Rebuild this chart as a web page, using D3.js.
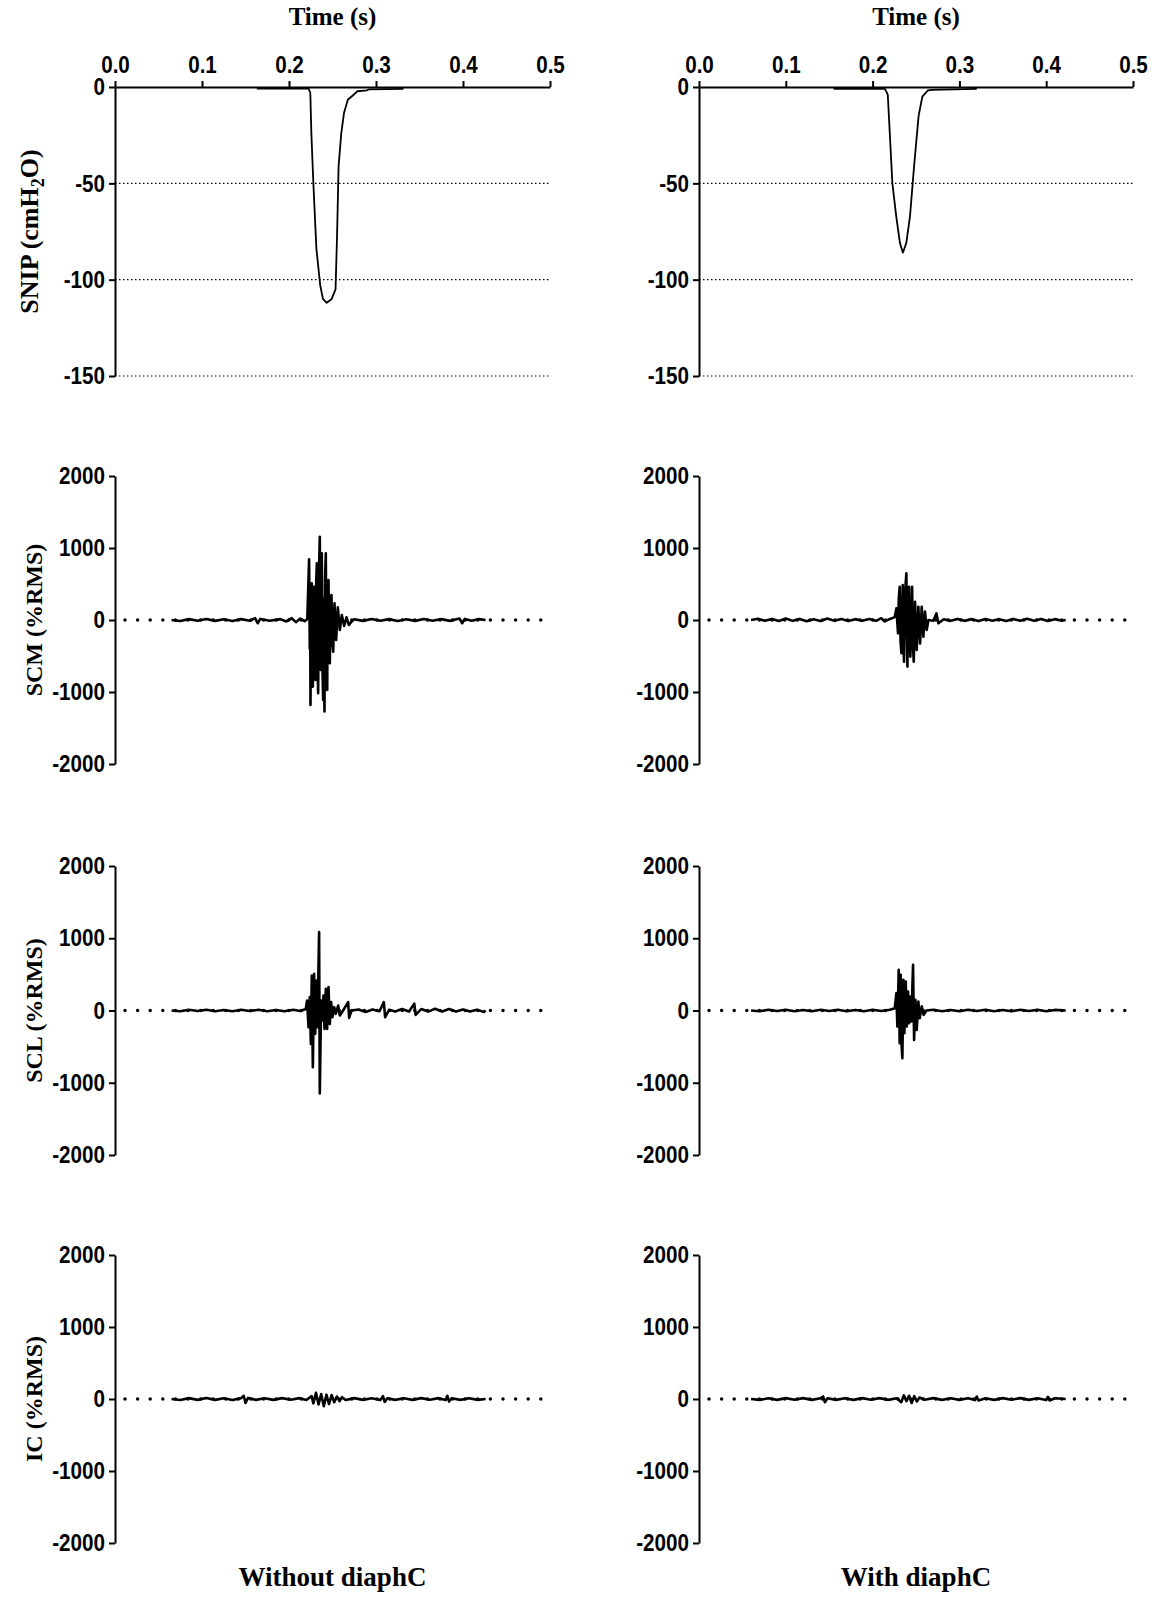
<!DOCTYPE html>
<html lang="en">
<head>
    <meta charset="UTF-8">
    <title>SNIP and EMG traces</title>
    <script src="https://cdn.jsdelivr.net/npm/d3@7"></script>
    <style>
        body { margin: 0; background: #fff; }
        .tick text { font-family: "Liberation Sans", Arial, sans-serif; font-weight: bold; font-size: 24px; fill: #000; }
        .title { font-family: "Liberation Serif", "Times New Roman", serif; font-weight: bold; fill: #000; }
    </style>
</head>
<body>
    <script>
        // x ticks (time, s)
        var timeTicks = [0, 0.1, 0.2, 0.3, 0.4, 0.5];
        var snipTicks = [0, -50, -100, -150];
        var snipGrid = [-50, -100, -150];
        var emgTicks = [2000, 1000, 0, -1000, -2000];

        var colTitles = ['Without diaphC', 'With diaphC'];

        // SNIP (cmH2O) traces : [time, value]
        var snipWithout = [
            [0.163, -0.8], [0.2225, -0.8], [0.2245, -3], [0.2257, -24], [0.228, -50], [0.2315, -84],
            [0.2359, -103], [0.239, -110], [0.2434, -112], [0.2491, -110], [0.2535, -105], [0.2553, -76],
            [0.257, -41], [0.2601, -24], [0.2632, -13.5], [0.2676, -6.6], [0.2743, -4], [0.2787, -2.2],
            [0.2897, -1.7], [0.292, -1.2], [0.3316, -1]
        ];
        var snipWith = [
            [0.155, -1], [0.2142, -1], [0.2175, -4], [0.2198, -24], [0.2228, -50], [0.2272, -67],
            [0.2315, -81], [0.2349, -86], [0.2388, -81], [0.2431, -67], [0.2478, -41], [0.253, -15],
            [0.2573, -5], [0.2638, -1.7], [0.268, -1.5], [0.32, -1]
        ];

        // EMG (%RMS) traces : [time, value]
        var scmWithout = [
            [0.065, 0], [0.075, -15], [0.085, 12], [0.095, -10], [0.105, 15], [0.115, -12], [0.125, 10],
            [0.135, -15], [0.145, 12], [0.155, -10], [0.161, 25], [0.164, -45], [0.167, 15], [0.178, -10],
            [0.19, 12], [0.197, -20], [0.203, 25], [0.208, -30], [0.213, 20], [0.218, -15], [0.221, 10],
            [0.2231, 842], [0.2239, -400], [0.2243, 350], [0.2247, -1179], [0.2255, 420], [0.2262, 509],
            [0.2268, -500], [0.2274, -925], [0.2281, 380], [0.2289, 462], [0.2297, -450], [0.2305, -832],
            [0.2312, 500], [0.232, 786], [0.2328, -600], [0.2335, -1017], [0.2345, 700], [0.2354, 1155],
            [0.236, -450], [0.2366, -693], [0.2371, 600], [0.2377, 925], [0.2385, -700], [0.2393, -1110],
            [0.24, 300], [0.2408, -1271], [0.2415, 600], [0.2423, 925], [0.2431, -600], [0.2439, -971],
            [0.2446, 400], [0.2454, 555], [0.2462, -350], [0.2469, -601], [0.2478, 250], [0.2488, 347],
            [0.2498, -300], [0.2508, -439], [0.2523, 231], [0.2542, -277], [0.2561, 176], [0.2584, -139],
            [0.2607, 69], [0.2634, -83], [0.2661, 37], [0.2688, -69], [0.2718, -23], [0.275, 10],
            [0.285, -12], [0.295, 15], [0.305, -10], [0.315, 12], [0.325, -15], [0.335, 10], [0.345, -12],
            [0.355, 14], [0.365, -10], [0.375, 12], [0.385, -12], [0.396, 20], [0.399, -45], [0.402, 15],
            [0.41, -10], [0.418, 12], [0.426, 0]
        ];
        var scmWith = [
            [0.06, 0], [0.068, 18], [0.076, -12], [0.084, 15], [0.092, -15], [0.1, 20], [0.108, -12],
            [0.116, 15], [0.124, -18], [0.132, 12], [0.14, -15], [0.148, 20], [0.156, -12], [0.164, 15],
            [0.172, -15], [0.18, 12], [0.188, -10], [0.196, 15], [0.204, -12], [0.21, 25], [0.214, -20],
            [0.22, 15], [0.2255, 40], [0.2274, 162], [0.2293, -185], [0.2302, 300], [0.2312, 462],
            [0.2322, -300], [0.2332, -462], [0.2347, 485], [0.2355, -350], [0.2362, -578], [0.2375, 400],
            [0.2389, 647], [0.2401, -647], [0.241, 300], [0.242, 462], [0.2428, -300], [0.2435, -508],
            [0.2455, 462], [0.2465, -350], [0.2474, -578], [0.2489, 254], [0.2508, -416], [0.2527, 185],
            [0.2547, -324], [0.2566, 185], [0.2585, -231], [0.2604, 116], [0.2623, -139], [0.2643, 0],
            [0.27, -10], [0.2735, 92], [0.2758, -46], [0.282, 10], [0.29, -12], [0.298, 15], [0.306, -12],
            [0.314, 12], [0.322, -15], [0.33, 15], [0.338, -10], [0.346, 12], [0.354, -15], [0.362, 15],
            [0.37, -12], [0.378, 18], [0.386, -12], [0.394, 15], [0.402, -15], [0.41, 12], [0.418, -10],
            [0.4225, 0]
        ];
        var sclWithout = [
            [0.065, 0], [0.075, -10], [0.085, 10], [0.095, -8], [0.105, 10], [0.115, -10], [0.125, 8],
            [0.135, -10], [0.145, 10], [0.155, -8], [0.165, 10], [0.175, -10], [0.185, 8], [0.195, -10],
            [0.205, 10], [0.213, -8], [0.2193, 20], [0.2208, 139], [0.2224, -231], [0.2239, 185],
            [0.2251, -462], [0.2262, 485], [0.2274, -786], [0.2289, 508], [0.2301, -323], [0.2316, 416],
            [0.2327, -231], [0.2346, 1086], [0.2354, -1147], [0.2369, 139], [0.2385, -139], [0.2396, 208],
            [0.2408, -254], [0.2423, 300], [0.2438, -254], [0.2454, 323], [0.2469, -185], [0.2484, 116],
            [0.25, -92], [0.2519, 46], [0.2538, -46], [0.2565, 69], [0.2584, -69], [0.2622, 0],
            [0.268, 116], [0.2691, -102], [0.2718, 0], [0.28, 15], [0.288, -20], [0.296, 15], [0.304, -10],
            [0.309, 116], [0.3105, -92], [0.315, 10], [0.322, -15], [0.33, 20], [0.338, -15],
            [0.344, 95], [0.3455, -60], [0.352, 20], [0.36, -15], [0.368, 25], [0.376, -15], [0.384, 20],
            [0.392, -15], [0.4, 15], [0.408, -15], [0.416, 12], [0.424, -20], [0.426, 0]
        ];
        var sclWith = [
            [0.06, 0], [0.07, -10], [0.08, 10], [0.09, -8], [0.1, 10], [0.11, -10], [0.12, 8], [0.13, -10],
            [0.14, 10], [0.15, -8], [0.16, 10], [0.17, -10], [0.18, 8], [0.19, -10], [0.2, 10], [0.21, -8],
            [0.22, 10], [0.2255, 30], [0.2274, 241], [0.2285, -222], [0.2301, 565], [0.2312, -453],
            [0.2324, 495], [0.2335, -500], [0.2343, -661], [0.2355, 425], [0.2366, -314], [0.2382, 402],
            [0.2393, -222], [0.2408, 264], [0.242, -176], [0.2435, 194], [0.2447, -153], [0.2466, 634],
            [0.2478, -407], [0.2493, 148], [0.2508, -268], [0.2527, 125], [0.2543, -106], [0.2566, 57],
            [0.2589, -60], [0.262, 0], [0.27, 10], [0.28, -10], [0.29, 8], [0.3, -10], [0.31, 10],
            [0.32, -8], [0.33, 10], [0.34, -10], [0.35, 8], [0.36, -10], [0.37, 10], [0.38, -8],
            [0.39, 10], [0.4, -10], [0.41, 8], [0.4225, 0]
        ];
        var icWithout = [
            [0.065, 0], [0.075, -15], [0.085, 12], [0.095, -12], [0.105, 15], [0.115, -12], [0.125, 10],
            [0.135, -15], [0.145, 12], [0.148, 45], [0.15, -55], [0.153, 15], [0.162, -12], [0.172, 10],
            [0.182, -12], [0.192, 12], [0.202, -10], [0.212, 12], [0.22, -15], [0.226, 40], [0.228, -60],
            [0.231, 85], [0.234, -75], [0.237, 70], [0.24, -100], [0.243, 60], [0.246, -70], [0.249, 55],
            [0.252, -45], [0.255, 35], [0.258, -30], [0.261, 25], [0.265, -15], [0.275, 12], [0.285, -12],
            [0.295, 10], [0.305, -15], [0.308, 40], [0.31, -40], [0.313, 10], [0.322, -12], [0.332, 10],
            [0.342, -12], [0.352, 12], [0.362, -10], [0.372, 12], [0.38, -15], [0.382, 45], [0.384, -35],
            [0.387, 10], [0.397, -12], [0.407, 10], [0.417, -12], [0.426, 0]
        ];
        var icWith = [
            [0.06, 0], [0.07, -12], [0.08, 10], [0.09, -12], [0.1, 12], [0.11, -10], [0.12, 12],
            [0.13, -12], [0.14, 10], [0.143, 35], [0.145, -45], [0.148, 10], [0.158, -12], [0.168, 10],
            [0.178, -12], [0.188, 12], [0.198, -10], [0.208, 12], [0.218, -12], [0.228, 10], [0.233, -45],
            [0.236, 50], [0.239, -30], [0.242, 45], [0.245, -55], [0.248, 40], [0.251, -35], [0.254, 20],
            [0.26, -10], [0.27, 12], [0.28, -12], [0.29, 10], [0.3, -12], [0.31, 10], [0.318, -15],
            [0.32, 35], [0.322, -20], [0.33, 10], [0.34, -12], [0.35, 12], [0.36, -10], [0.37, 12],
            [0.38, -12], [0.39, 10], [0.4, -15], [0.402, 30], [0.404, -20], [0.41, 10], [0.4225, 0]
        ];

        var emgNames = ['SCM (%RMS)', 'SCL (%RMS)', 'IC (%RMS)'];
        var emgData = [[scmWithout, scmWith], [sclWithout, sclWith], [icWithout, icWith]];
        var snipData = [snipWithout, snipWith];

        var width = 1168, height = 1598;
        var svg = d3.select('body').append('svg')
            .attr('width', width)
            .attr('height', height);

        var cols = [{x0: 115, x1: 550}, {x0: 699, x1: 1133}];
        var emgRows = [{top: 476, bottom: 764}, {top: 866, bottom: 1155}, {top: 1255, bottom: 1543}];
        var snipTop = 87, snipBottom = 376;
        var squeeze = 0.86; // tick font is a narrow bold sans

        function plain(d) { return String(d); }

        function style_axis(g) {
            g.select('.domain').attr('stroke', '#000').attr('stroke-width', 2);
            g.selectAll('.tick line').attr('stroke', '#000').attr('stroke-width', 2);
        }

        function squeeze_left(g) {
            g.selectAll('.tick text')
                .attr('x', -10 / squeeze)
                .attr('transform', 'scale(' + squeeze + ',1)');
        }

        function squeeze_top(g) {
            g.selectAll('.tick text').attr('transform', 'scale(' + squeeze + ',1)');
        }

        var line = d3.line().curve(d3.curveLinear);

        cols.forEach(function (c, ci) {
            var x = d3.scaleLinear().domain([0, 0.5]).range([c.x0, c.x1]);

            // ---- SNIP panel ----
            var y = d3.scaleLinear().domain([-150, 0]).range([snipBottom, snipTop]);
            var p = svg.append('g');

            p.selectAll('.grid').data(snipGrid).enter().append('line')
                .attr('x1', c.x0).attr('x2', c.x1)
                .attr('y1', function (d) { return y(d); }).attr('y2', function (d) { return y(d); })
                .attr('stroke', '#000').attr('stroke-width', 1.2)
                .attr('stroke-dasharray', '1.5,2.5');

            p.append('g').attr('transform', 'translate(' + c.x0 + ',0)')
                .call(d3.axisLeft(y).tickValues(snipTicks).tickFormat(plain).tickSize(6).tickPadding(4).tickSizeOuter(0))
                .call(style_axis).call(squeeze_left);

            p.append('g').attr('transform', 'translate(0,' + y(0) + ')')
                .call(d3.axisTop(x).tickValues(timeTicks).tickFormat(d3.format('.1f')).tickSize(6).tickPadding(8).tickSizeOuter(0))
                .call(style_axis).call(squeeze_top);

            p.append('path').datum(snipData[ci])
                .attr('fill', 'none').attr('stroke', '#000').attr('stroke-width', 1.8)
                .attr('stroke-linejoin', 'round')
                .attr('d', line.x(function (d) { return x(d[0]); }).y(function (d) { return y(d[1]); }));

            svg.append('text').attr('class', 'title')
                .attr('x', (c.x0 + c.x1) / 2).attr('y', 25)
                .attr('text-anchor', 'middle').attr('font-size', 25)
                .text('Time (s)');

            // ---- EMG panels ----
            emgRows.forEach(function (r, ri) {
                var ye = d3.scaleLinear().domain([-2000, 2000]).range([r.bottom, r.top]);
                var g = svg.append('g');

                g.append('line')
                    .attr('x1', c.x0 + 10).attr('x2', c.x1)
                    .attr('y1', ye(0)).attr('y2', ye(0))
                    .attr('stroke', '#000').attr('stroke-width', 3.5)
                    .attr('stroke-linecap', 'round')
                    .attr('stroke-dasharray', '0,12.6');

                g.append('g').attr('transform', 'translate(' + c.x0 + ',0)')
                    .call(d3.axisLeft(ye).tickValues(emgTicks).tickFormat(plain).tickSize(6).tickPadding(4).tickSizeOuter(0))
                    .call(style_axis).call(squeeze_left);

                g.append('path').datum(emgData[ri][ci])
                    .attr('fill', 'none').attr('stroke', '#000').attr('stroke-width', 2.6)
                    .attr('stroke-linejoin', 'round')
                    .attr('d', line.x(function (d) { return x(d[0]); }).y(function (d) { return ye(d[1]); }));
            });

            svg.append('text').attr('class', 'title')
                .attr('x', (c.x0 + c.x1) / 2).attr('y', 1586)
                .attr('text-anchor', 'middle').attr('font-size', 27)
                .text(colTitles[ci]);
        });

        // y axis titles (left column only)
        var snipLabel = svg.append('text').attr('class', 'title')
            .attr('transform', 'translate(38,' + ((snipTop + snipBottom) / 2) + ') rotate(-90)')
            .attr('text-anchor', 'middle').attr('font-size', 26);
        snipLabel.append('tspan').text('SNIP (cmH');
        snipLabel.append('tspan').attr('font-size', 18).attr('dy', 6).text('2');
        snipLabel.append('tspan').attr('dy', -6).text('O)');

        emgRows.forEach(function (r, ri) {
            svg.append('text').attr('class', 'title')
                .attr('transform', 'translate(42,' + ((r.top + r.bottom) / 2) + ') rotate(-90)')
                .attr('text-anchor', 'middle').attr('font-size', 24)
                .text(emgNames[ri]);
        });
    </script>
</body>
</html>
